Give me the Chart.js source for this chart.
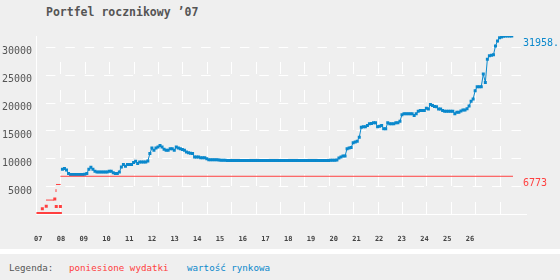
<!DOCTYPE html>
<html>
<head>
<meta charset="utf-8">
<script src="https://cdn.jsdelivr.net/npm/chart.js@4.4.0/dist/chart.umd.min.js"></script>
<style>
  body { margin: 0; width: 560px; height: 280px; background: #efefef; position: relative; overflow: hidden; font-family: 'DejaVu Sans Mono', monospace; }
  #title { position: absolute; left: 46px; top: 6px; font-size: 11.5px; line-height: 13px; font-weight: bold; color: #555; white-space: pre; }
  #chart { position: absolute; left: 0; top: 0; }
  #sep { position: absolute; left: 0; top: 249px; width: 560px; height: 5px; background: #fff; }
  .leg { position: absolute; top: 262px; font-size: 9.2px; line-height: 11px; white-space: pre; }
</style>
</head>
<body>
<div id="title">Portfel rocznikowy ’07</div>
<canvas id="chart" width="560" height="249"></canvas>
<div id="sep"></div>
<span class="leg" style="left:9px;color:#555">Legenda:</span>
<span class="leg" style="left:69px;color:#ff4040">poniesione wydatki</span>
<span class="leg" style="left:187px;color:#0a88cc">wartość rynkowa</span>
<script>
const BLUE = '#0a88cc';
const RED = '#ff4040';

// podpisy osi x (lata) i osi y
const tickLabels = ['07','08','09','10','11','12','13','14','15','16','17','18','19','20','21','22','23','24','25','26'];
const gridYears = tickLabels.slice(1).map(t => 2000 + Number(t));
const yTicks = [5000, 10000, 15000, 20000, 25000, 30000];

// wartość rynkowa - miesięcznie od lutego 2008
const marketStart = 2008 + 1 / 12;
const marketValue = [
  8040, 8160, 7910, 7270, 7100, 7100, 7100, 7100, 7100, 7100, 7100,               // 2008
  7140, 7270, 8040, 8390, 8040, 7680, 7560, 7560, 7560, 7560, 7560, 7560,         // 2009
  7680, 7680, 7400, 7270, 7270, 7560, 8450, 8870, 8570, 8870, 8870, 8870,         // 2010
  9230, 9460, 9050, 9340, 9340, 9340, 9340, 9520, 10840, 11840, 11430, 11840,     // 2011
  12020, 12320, 12020, 11610, 11430, 11430, 11730, 11730, 11430, 12020, 11840, 11730, // 2012
  11600, 11430, 11130, 11010, 10900, 10840, 10240, 10240, 10240, 10120, 10120, 10120, // 2013
  9940, 9760, 9760, 9760, 9760, 9760, 9700, 9640, 9640, 9640, 9600, 9600,        // 2014
  9600, 9600, 9600, 9600, 9600, 9600, 9600, 9600, 9600, 9600, 9600, 9600,        // 2015
  9600, 9600, 9600, 9600, 9600, 9600, 9600, 9600, 9600, 9600, 9600, 9600,        // 2016
  9600, 9600, 9600, 9600, 9600, 9600, 9600, 9600, 9600, 9600, 9600, 9600,        // 2017
  9600, 9600, 9600, 9600, 9600, 9600, 9600, 9600, 9600, 9600, 9600, 9600,        // 2018
  9600, 9640, 9640, 9640, 9680, 10060, 10240, 10420, 10420, 11730, 11850, 11960,  // 2019
  12800, 12910, 13040, 13800, 15590, 15660, 15660, 15890, 16190, 16250, 16370, 16370, // 2020
  15660, 15770, 15890, 15300, 15300, 16370, 16190, 16190, 16190, 16370, 16370, 16670, // 2021
  17800, 17980, 17980, 17980, 17980, 17980, 17680, 17980, 18450, 18570, 18570, 18570, // 2022
  18990, 18870, 19640, 19500, 19290, 19250, 18870, 18870, 18570, 18450, 18450, 18450, // 2023
  18450, 18450, 17980, 18270, 18270, 18500, 18690, 18690, 18900, 19400, 20230, 20660, // 2024
  22140, 22860, 22860, 22860, 25120, 23620, 27800, 28390, 28480, 28570, 30180, 31070, // 2025
  31660, 31800, 31900, 31958, 31958, 31958, 31958                                  // 2026
];

// poniesione wydatki - odcinki linii (null = przerwa)
const spendLineX = [2007.41, 2007.74, 2007.78, 2007.82, 2007.82, 2007.82, 2007.82, 2008.01, 2008.01, 2008.0, 2026.55];
const spendLineY = [2500, 2500, null, 3950, 4460, null, 5300, 5300, null, 6773, 6773];
// poniesione wydatki - pojedyncze punkty
const spendMarkX = [2007.08, 2007.17, 2007.25, 2007.33, 2007.42, 2007.5, 2007.58, 2007.67, 2007.75, 2007.83, 2007.92, 2008.0,
                    2007.26, 2007.42, 2007.77, 2007.83, 2008.0];
const spendMarkY = [100, 100, 100, 100, 100, 100, 100, 100, 100, 100, 100, 100,
                    930, 1370, 2680, 1340, 1340];

const marketData = marketValue.map((v, i) => ({ x: marketStart + i / 12, y: v }));
const spendLine = spendLineX.map((x, i) => ({ x: x, y: spendLineY[i] }));
const spendMarks = spendMarkX.map((x, i) => ({ x: x, y: spendMarkY[i] }));
const lastValue = marketValue[marketValue.length - 1];
const lastSpend = spendLineY[spendLineY.length - 1];

const MONO = "'DejaVu Sans Mono', monospace";

// siatka przerywana + etykiety na końcu serii
const gridPlugin = {
    id: 'dashGrid',
    beforeDatasetsDraw(chart) {
        const { ctx, chartArea: a, scales: { x, y } } = chart;
        ctx.save();
        ctx.strokeStyle = '#ffffff';
        ctx.lineWidth = 1;
        ctx.setLineDash([9.5, 9.9]);
        ctx.lineDashOffset = 9.5;
        yTicks.forEach(v => {
            const py = Math.round(y.getPixelForValue(v)) + 0.5;
            ctx.beginPath(); ctx.moveTo(a.left, py); ctx.lineTo(a.right, py); ctx.stroke();
        });
        const topPx = y.getPixelForValue(Math.max(...yTicks));
        ctx.setLineDash([12, 16]);
        ctx.lineDashOffset = 0;
        gridYears.forEach(yr => {
            const px = Math.round(x.getPixelForValue(yr)) + 0.5;
            ctx.beginPath(); ctx.moveTo(px, a.bottom); ctx.lineTo(px, topPx); ctx.stroke();
        });
        ctx.restore();
    },
    afterDatasetsDraw(chart) {
        const { ctx, scales: { y } } = chart;
        ctx.save();
        ctx.font = '10px ' + MONO;
        ctx.textBaseline = 'top';
        ctx.textAlign = 'left';
        ctx.fillStyle = BLUE;
        ctx.fillText(lastValue + '.', 523, y.getPixelForValue(lastValue) + 2);
        ctx.fillStyle = RED;
        ctx.fillText(String(lastSpend), 523, y.getPixelForValue(lastSpend) + 2);
        ctx.restore();
    }
};

const markStyle = { pointStyle: 'rect', pointRadius: 2.12, pointBorderWidth: 0, pointHoverRadius: 2.12 };

new Chart(document.getElementById('chart').getContext('2d'), {
    type: 'line',
    data: {
        datasets: [
            { label: 'poniesione wydatki', data: spendLine, xAxisID: 'x', yAxisID: 'y', borderColor: RED, borderWidth: 1, pointRadius: 0, spanGaps: false, tension: 0 },
            Object.assign({ label: 'poniesione wydatki', data: spendMarks, xAxisID: 'x', yAxisID: 'y', showLine: false, pointBackgroundColor: RED, borderColor: RED }, markStyle),
            Object.assign({ label: 'wartość rynkowa', data: marketData, xAxisID: 'x', yAxisID: 'y', borderColor: BLUE, borderWidth: 1, pointBackgroundColor: BLUE, tension: 0 }, markStyle)
        ]
    },
    options: {
        responsive: false,
        animation: false,
        events: [],
        layout: { padding: { top: 36, right: 33.6, left: 0, bottom: 0 } },
        plugins: { legend: { display: false }, tooltip: { enabled: false } },
        scales: {
            x: { type: 'linear', display: false, min: 2007, max: 2027.1 },
            xl: {
                type: 'linear', position: 'bottom', min: 2006.899, max: 2028.483,
                grid: { display: false, drawTicks: false },
                border: { display: true, color: '#ffffff', width: 1 },
                afterBuildTicks: s => { s.ticks = tickLabels.map((t, i) => ({ value: 2007 + i })); },
                afterFit: s => { s.height = 35; },
                ticks: { callback: (v, i) => tickLabels[i], padding: 21, maxRotation: 0, autoSkip: false, color: '#444', font: { family: MONO, size: 7, weight: 'bold' } }
            },
            y: {
                type: 'linear', position: 'left', min: 0, max: Math.max(...marketValue),
                grid: { display: false, drawTicks: false },
                border: { display: true, color: '#ffffff', width: 1 },
                afterBuildTicks: s => { s.ticks = yTicks.map(v => ({ value: v })); },
                afterFit: s => { s.width = 36; },
                ticks: { padding: 4, labelOffset: 5, autoSkip: false, color: '#555', font: { family: MONO, size: 10 },
                         callback: v => v }
            }
        }
    },
    plugins: [gridPlugin]
});
</script>
</body>
</html>
